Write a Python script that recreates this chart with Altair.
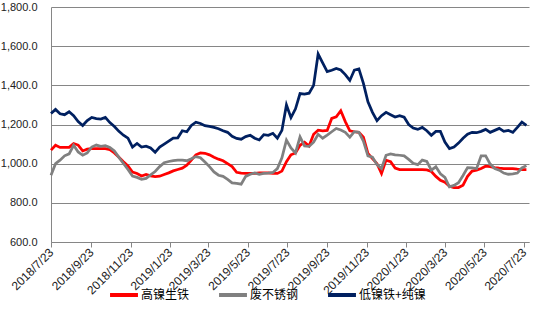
import altair as alt
import pandas as pd

# weekly observations starting 2018-07-23
start_date = "2018-07-23"
n_weeks = 106

series_names = ["高镍生铁", "废不锈钢", "低镍铁+纯镍"]
series_colors = ["#FF0000", "#808080", "#002060"]

high_ni_pig_iron = [
    1069, 1094, 1083, 1083, 1083, 1103, 1095, 1065, 1074, 1077,
    1077, 1077, 1077, 1072, 1055, 1033, 1010, 988, 957, 950,
    937, 945, 938, 934, 936, 945, 953, 963, 970, 977,
    992, 1018, 1045, 1055, 1053, 1045, 1033, 1023, 1015, 1000,
    985, 956, 952, 951, 950, 951, 953, 953, 953, 950,
    950, 962, 1010, 1045, 1055, 1094, 1110, 1090, 1150, 1171,
    1167, 1170, 1231, 1239, 1270, 1215, 1168, 1163, 1160, 1135,
    1052, 1026, 1000, 950, 1018, 1010, 978, 970, 970, 970,
    970, 970, 970, 968, 960, 935, 915, 905, 885, 878,
    878, 890, 935, 962, 967, 975, 987, 985, 980, 977,
    975, 975, 975, 972, 970, 970,
]

scrap_stainless = [
    941, 1000, 1018, 1040, 1050, 1094, 1060, 1043, 1055, 1085,
    1095, 1088, 1092, 1083, 1065, 1032, 1001, 970, 937, 930,
    920, 925, 943, 960, 985, 1005, 1011, 1016, 1018, 1018,
    1015, 1025, 1036, 1030, 1008, 985, 958, 941, 935, 920,
    902, 899, 895, 935, 946, 953, 946, 950, 952, 955,
    975, 1030, 1120, 1080, 1055, 1137, 1090, 1088, 1110, 1150,
    1130, 1146, 1163, 1180, 1172, 1160, 1135, 1163, 1160, 1115,
    1040, 1033, 995, 975, 1043, 1050, 1045, 1043, 1040, 1022,
    1002, 995, 1018, 1012, 967, 984, 948, 930, 882, 889,
    903, 940, 980, 978, 975, 1040, 1040, 998, 975, 967,
    952, 946, 948, 952, 978, 990,
]

low_ni_iron_plus_ni = [
    1256, 1277, 1255, 1250, 1265, 1245, 1215, 1195, 1220, 1236,
    1230, 1228, 1236, 1210, 1190, 1165, 1145, 1130, 1085, 1103,
    1085, 1089, 1080, 1058, 1085, 1100, 1115, 1130, 1132, 1168,
    1163, 1195, 1212, 1205, 1194, 1190, 1185, 1178, 1168, 1160,
    1140, 1129, 1125, 1138, 1145, 1130, 1121, 1148, 1145, 1155,
    1130, 1170, 1300, 1235, 1280, 1358, 1355, 1360, 1400, 1560,
    1515, 1470, 1477, 1486, 1478, 1455, 1425, 1478, 1484, 1410,
    1316, 1262, 1220, 1245, 1262, 1250, 1238, 1245, 1237, 1200,
    1182, 1175, 1185, 1168, 1145, 1165, 1165, 1110, 1077, 1085,
    1105, 1130, 1150, 1160, 1158, 1165, 1175, 1160, 1170, 1180,
    1165, 1170, 1160, 1185, 1212, 1195,
]

tick_dates = [
    (2018, 7, 23), (2018, 9, 23), (2018, 11, 23), (2019, 1, 23),
    (2019, 3, 23), (2019, 5, 23), (2019, 7, 23), (2019, 9, 23),
    (2019, 11, 23), (2020, 1, 23), (2020, 3, 23), (2020, 5, 23),
    (2020, 7, 23),
]

dates = pd.date_range(start_date, periods=n_weeks, freq="7D").strftime("%Y-%m-%d")
frames = []
for name, vals in zip(series_names, [high_ni_pig_iron, scrap_stainless, low_ni_iron_plus_ni]):
    frames.append(pd.DataFrame({"date": dates, "value": vals, "series": name}))
df = pd.concat(frames, ignore_index=True)

x_enc = alt.X(
    "date:T",
    scale=alt.Scale(type="utc", domain=[
        alt.DateTime(year=2018, month=7, date=23, utc=True),
        alt.DateTime(year=2020, month=7, date=31, utc=True),
    ]),
    axis=alt.Axis(
        values=[alt.DateTime(year=y, month=m, date=d, utc=True) for (y, m, d) in tick_dates],
        format="%Y/%-m/%-d",
        labelAngle=-45,
        labelAlign="right",
        labelBaseline="middle",
        labelFont="Liberation Sans",
        labelFontSize=12,
        labelColor="#222222",
        labelPadding=3,
        tickSize=5,
        tickColor="#868686",
        domainColor="#868686",
        grid=False,
        title=None,
        labelOverlap=False,
        labelBound=False,
    ),
)

y_enc = alt.Y(
    "value:Q",
    scale=alt.Scale(domain=[600, 1800], nice=False, zero=False),
    axis=alt.Axis(
        values=[600, 800, 1000, 1200, 1400, 1600, 1800],
        format=",.1f",
        labelFont="Liberation Sans",
        labelFontSize=11,
        labelColor="#222222",
        labelPadding=14,
        ticks=False,
        grid=True,
        gridColor="#868686",
        gridWidth=1,
        domainColor="#868686",
        title=None,
    ),
)

color_enc = alt.Color(
    "series:N",
    scale=alt.Scale(domain=series_names, range=series_colors),
    legend=alt.Legend(
        title=None,
        orient="none",
        direction="horizontal",
        legendX=57,
        legendY=272,
        symbolType="stroke",
        symbolStrokeWidth=4,
        symbolSize=780,
        labelFont="Noto Sans CJK SC",
        labelFontSize=12,
        labelColor="#000000",
        labelOffset=1,
        columnPadding=21,
    ),
)

layers = []
for name in series_names:
    layers.append(
        alt.Chart(df)
        .transform_filter(alt.datum.series == name)
        .mark_line(strokeWidth=2.75, interpolate="linear")
        .encode(x=x_enc, y=y_enc, color=color_enc)
    )

chart = (
    alt.layer(*layers)
    .properties(
        width=478,
        height=235,
        autosize=alt.AutoSizeParams(type="none"),
        padding={"left": 51, "top": 7, "right": 4, "bottom": 75},
        background="white",
    )
    .configure_view(stroke=None)
)

chart.save("out.html", embed_options={"renderer": "svg", "actions": False})
